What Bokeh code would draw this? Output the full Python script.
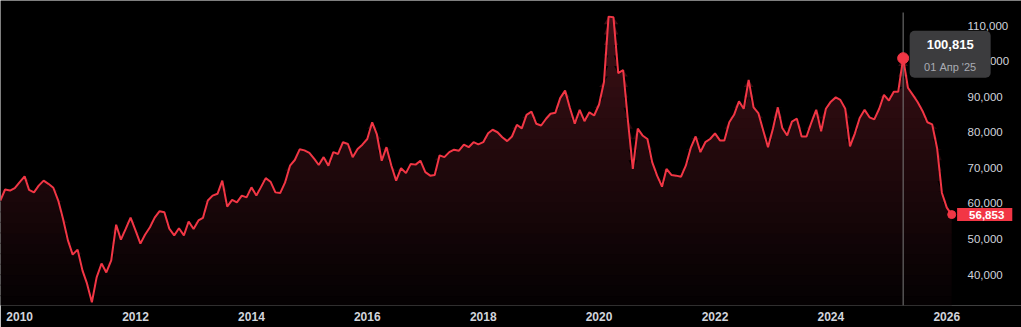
import numpy as np
import pandas as pd
from bokeh.plotting import figure
from bokeh.models import Range1d, FixedTicker, NumeralTickFormatter, DatetimeTickFormatter, Label
from bokeh.embed import file_html
from bokeh.resources import INLINE

# ---------------- data ----------------
start_month = "2009-09-01"
values = [
    60800, 63900, 63600, 64300, 66000, 67600, 63800, 63100, 65000, 66400,
    65500, 64400, 60800, 55700, 49600, 45600, 47000, 41100, 37500, 32200,
    39200, 43100, 40600, 44000, 54000, 49800, 52900, 56000, 52400, 48700,
    51200, 53300, 56000, 57800, 57500, 52900, 51000, 53000, 51000, 54900,
    52800, 55200, 55900, 60800, 62200, 62700, 66400, 59100, 61000, 60300,
    62200, 61700, 64500, 62200, 64500, 67100, 66100, 63100, 62900, 65900,
    70600, 72200, 75200, 74900, 74200, 72500, 70800, 73000, 70600, 74400,
    73900, 77200, 76700, 73000, 75300, 76500, 78100, 82800, 79500, 72000,
    75800, 70600, 66400, 69900, 68500, 71100, 70900, 72000, 68800, 67800,
    68000, 73500, 73000, 74400, 75100, 74800, 76500, 75800, 77200, 76600,
    77200, 79700, 80700, 80000, 78600, 77500, 78800, 82100, 81100, 84900,
    85800, 82400, 81900, 83800, 85200, 85500, 89600, 91700, 86900, 82400,
    86300, 83100, 85600, 84700, 87800, 94100, 112500, 112300, 96600, 97500,
    83300, 69700, 81000, 79100, 78100, 71600, 67800, 64700, 69700, 68000,
    67800, 67500, 70600, 75600, 78800, 74400, 77200, 78100, 79700, 77700,
    77700, 82800, 84900, 88700, 86600, 94700, 87000, 85400, 80500, 75800,
    81000, 87000, 81200, 79100, 83000, 83800, 78800, 78800, 82800, 86300,
    80300, 86600, 88600, 89800, 89100, 86600, 76000, 79700, 84000, 86300,
    84200, 83600, 86600, 90500, 88900, 91400, 91400, 100815, 92500, 90500,
    88500, 86000, 82800, 82200, 75500, 63000, 58800, 56853,
]
dates = pd.date_range(start_month, periods=len(values), freq="MS")

x_tick_years = [2010, 2012, 2014, 2016, 2018, 2020, 2022, 2024, 2026]
y_ticks = [40000, 50000, 60000, 70000, 80000, 90000, 100000, 110000]
ru_months = ["Янв", "Фев", "Мар", "Апр", "Май", "Июн",
             "Июл", "Авг", "Сен", "Окт", "Ноя", "Дек"]
highlight_date = "2025-04-01"

# ---------------- styling ----------------
LINE = "#f23645"
TXT = "#d1d4dc"
FONT = "Liberation Sans"

vals = np.array(values, dtype=float)
# frame spans the whole width; price scale labels sit inside its right part
x_start, x_end = pd.Timestamp("2009-09-02"), pd.Timestamp("2027-04-17")
y_lo, y_hi = 31300, 117030
cross_top = 113650

p = figure(width=1021, height=327, x_axis_type="datetime", y_axis_location="right",
           x_range=Range1d(x_start, x_end), y_range=Range1d(y_lo, y_hi),
           output_backend="svg", toolbar_location=None,
           min_border_left=0, min_border_right=0, min_border_top=0, min_border_bottom=22,
           background_fill_color="black", border_fill_color="black")
p.outline_line_color = None
p.grid.visible = False

# gradient area (stacked opaque bands, colour rising with height)
n_bands = 28
levels = np.linspace(y_lo, cross_top, n_bands + 1)
c_bot = np.array([4, 1, 2])
c_top = np.array([62, 16, 22])
eps = (cross_top - y_lo) * 0.004
for k in range(n_bands):
    lo, hi = levels[k], levels[k + 1]
    t = (k + 0.5) / n_bands
    c = (c_bot + (c_top - c_bot) * t).round().astype(int)
    col = "#%02x%02x%02x" % tuple(c)
    base = lo - eps if k > 0 else lo
    y2 = np.clip(vals, base, hi)
    p.varea(x=dates, y1=np.full(len(vals), base), y2=y2, fill_color=col, fill_alpha=1.0)

# crosshair
hi_idx = list(dates).index(pd.Timestamp(highlight_date))
hd = dates[hi_idx]
p.segment(x0=[hd], x1=[hd], y0=[y_lo], y1=[cross_top], line_color="#7c7c7c", line_width=1)

# main line
p.line(dates, vals, line_color=LINE, line_width=2)

# markers
p.scatter([hd], [vals[hi_idx]], size=11, fill_color=LINE, line_color=LINE)
p.scatter([dates[-1]], [vals[-1]], size=8, fill_color=LINE, line_color=LINE)

# axes
ms = lambda s: pd.Timestamp(s).value // 10**6
p.xaxis.ticker = FixedTicker(ticks=[ms(f"{y}-01-01") for y in x_tick_years])
p.xaxis.formatter = DatetimeTickFormatter(years="%Y", months="%Y", days="%Y")
p.yaxis.ticker = FixedTicker(ticks=y_ticks)
p.yaxis.formatter = NumeralTickFormatter(format="0,0")
for ax in (p.xaxis, p.yaxis):
    ax.axis_line_color = None
    ax.major_tick_line_color = None
    ax.minor_tick_line_color = None
    ax.major_tick_out = 0
    ax.major_tick_in = 0
    ax.minor_tick_out = 0
    ax.minor_tick_in = 0
    ax.major_label_text_color = TXT
    ax.major_label_text_font = FONT
p.xaxis.major_label_text_font_size = "12px"
p.xaxis.major_label_text_font_style = "bold"
p.xaxis.major_label_standoff = 6
p.yaxis.major_label_text_font_size = "11.5px"
p.yaxis.major_label_standoff = -54

# tooltip box
tip = Label(x=hd, y=vals[hi_idx], x_offset=47, y_offset=4,
            text=f"{int(vals[hi_idx]):,}", text_align="center", text_baseline="middle",
            text_color="white", text_font=FONT, text_font_size="13px", text_font_style="bold",
            background_fill_color="#3c3c3e", background_fill_alpha=1.0,
            padding=dict(top=9, right=17, bottom=29, left=17), border_radius=5)
p.add_layout(tip)
date_txt = f"{hd.day:02d} {ru_months[hd.month - 1]} '{hd:%y}"
tip2 = Label(x=hd, y=vals[hi_idx], x_offset=47, y_offset=-9,
             text=date_txt, text_align="center", text_baseline="middle",
             text_color="#a9abb2", text_font=FONT, text_font_size="11px")
p.add_layout(tip2)

# last value badge
last = Label(x=dates[-1], y=vals[-1], x_offset=33, y_offset=0,
             text=f"{int(vals[-1]):,}", text_align="center", text_baseline="middle",
             text_color="white", text_font=FONT, text_font_size="11.5px", text_font_style="bold",
             background_fill_color=LINE, background_fill_alpha=1.0,
             padding=dict(top=3, right=8, bottom=2, left=12))
p.add_layout(last)

open("out.html", "w").write(file_html(p, INLINE))
